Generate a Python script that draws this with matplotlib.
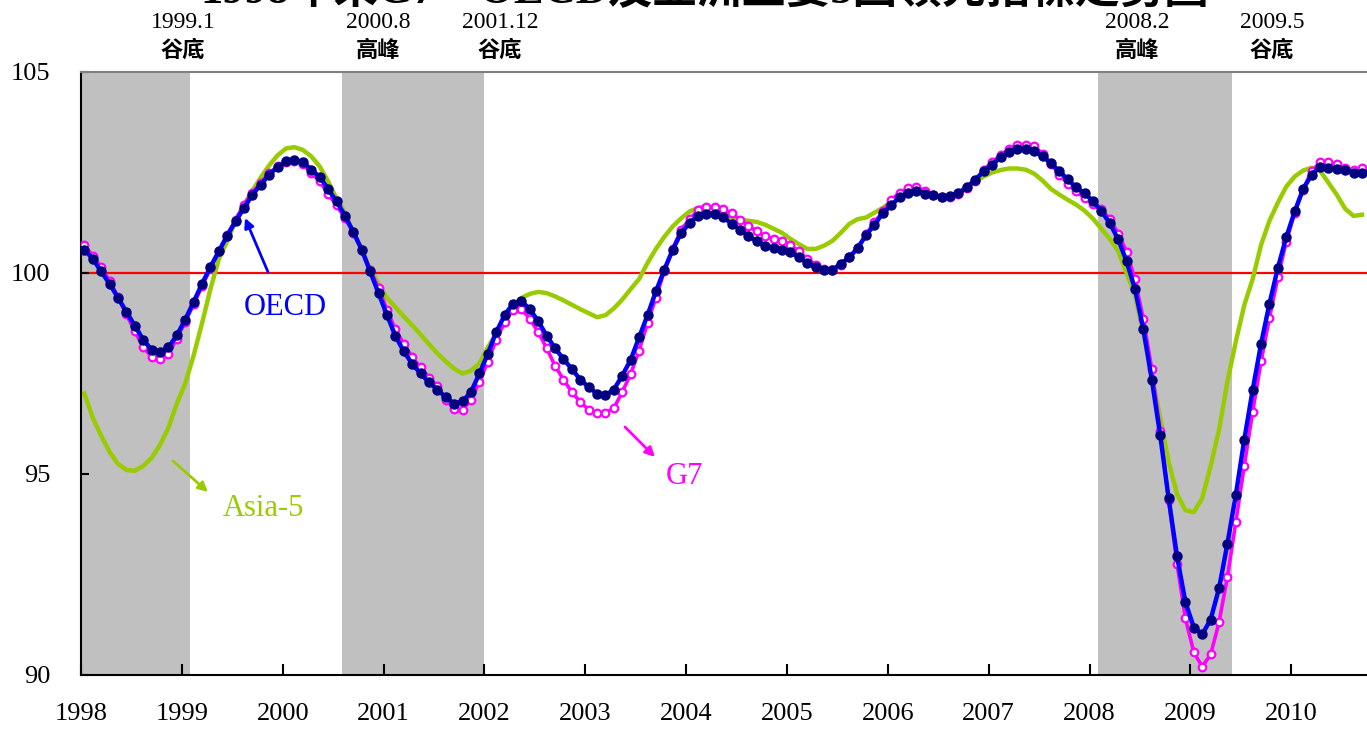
# -*- coding: utf-8 -*-
import matplotlib as mpl
mpl.use('Agg')
import matplotlib.pyplot as plt
import numpy as np
import pandas as pd

# 月份 (1998.01 ~ 2010.09)
months = pd.period_range('1998-01', '2010-09', freq='M')

oecd = [100.58, 100.35, 100.04, 99.73, 99.39, 99.03, 98.69, 98.34, 98.09, 98.04, 98.15, 98.45,
        98.84, 99.28, 99.73, 100.15, 100.54, 100.93, 101.29, 101.62, 101.95, 102.20, 102.45, 102.64,
        102.78, 102.82, 102.76, 102.57, 102.39, 102.09, 101.78, 101.43, 101.02, 100.58, 100.04, 99.50,
        98.96, 98.44, 98.05, 97.74, 97.50, 97.28, 97.10, 96.91, 96.75, 96.81, 97.04, 97.50,
        97.99, 98.53, 98.95, 99.24, 99.30, 99.10, 98.80, 98.44, 98.13, 97.86, 97.61, 97.35,
        97.16, 97.00, 96.96, 97.10, 97.45, 97.84, 98.40, 98.95, 99.54, 100.08, 100.58, 101.00,
        101.24, 101.43, 101.48, 101.48, 101.39, 101.23, 101.08, 100.93, 100.79, 100.68, 100.63, 100.58,
        100.53, 100.39, 100.25, 100.14, 100.08, 100.08, 100.23, 100.39, 100.62, 100.94, 101.20, 101.49,
        101.68, 101.89, 101.99, 102.03, 101.97, 101.93, 101.88, 101.91, 101.99, 102.14, 102.32, 102.53,
        102.69, 102.88, 103.00, 103.08, 103.08, 103.03, 102.90, 102.73, 102.53, 102.33, 102.13, 101.98,
        101.79, 101.54, 101.24, 100.84, 100.29, 99.60, 98.60, 97.35, 95.96, 94.40, 92.95, 91.81,
        91.18, 91.01, 91.38, 92.16, 93.27, 94.49, 95.85, 97.09, 98.24, 99.24, 100.13, 100.89,
        101.53, 102.09, 102.44, 102.64, 102.62, 102.59, 102.56, 102.49, 102.49]

g7 = [100.69, 100.43, 100.15, 99.80, 99.40, 98.97, 98.55, 98.15, 97.92, 97.85, 97.98, 98.37,
      98.78, 99.22, 99.67, 100.12, 100.55, 100.95, 101.33, 101.70, 102.00, 102.25, 102.48, 102.65,
      102.76, 102.78, 102.70, 102.50, 102.28, 101.97, 101.68, 101.37, 101.00, 100.58, 100.08, 99.63,
      99.09, 98.60, 98.24, 97.91, 97.65, 97.40, 97.18, 96.85, 96.62, 96.60, 96.85, 97.29,
      97.79, 98.34, 98.77, 99.09, 99.10, 98.86, 98.53, 98.13, 97.69, 97.35, 97.04, 96.79,
      96.60, 96.52, 96.52, 96.64, 97.04, 97.49, 98.07, 98.76, 99.38, 100.05, 100.60, 101.08,
      101.34, 101.56, 101.64, 101.65, 101.58, 101.49, 101.33, 101.18, 101.04, 100.91, 100.85, 100.79,
      100.70, 100.54, 100.35, 100.21, 100.11, 100.08, 100.20, 100.39, 100.62, 100.96, 101.26, 101.53,
      101.82, 102.00, 102.11, 102.15, 102.03, 101.95, 101.90, 101.90, 101.97, 102.11, 102.30, 102.57,
      102.75, 102.94, 103.08, 103.19, 103.19, 103.15, 102.97, 102.72, 102.45, 102.22, 102.03, 101.87,
      101.72, 101.58, 101.35, 100.98, 100.53, 99.84, 98.85, 97.60, 96.07, 94.35, 92.76, 91.41,
      90.56, 90.21, 90.51, 91.31, 92.45, 93.81, 95.20, 96.55, 97.80, 98.89, 99.89, 100.78,
      101.50, 102.07, 102.53, 102.75, 102.75, 102.70, 102.62, 102.55, 102.62]

asia5 = [97.00, 96.40, 95.95, 95.55, 95.25, 95.10, 95.08, 95.20, 95.40, 95.72, 96.15, 96.75,
         97.25, 97.95, 98.75, 99.60, 100.35, 100.80, 101.30, 101.70, 102.05, 102.38, 102.68, 102.93,
         103.10, 103.13, 103.06, 102.90, 102.65, 102.28, 101.85, 101.50, 101.00, 100.60, 100.10, 99.73,
         99.38, 99.15, 98.92, 98.70, 98.47, 98.23, 98.00, 97.80, 97.62, 97.50, 97.57, 97.75,
         98.15, 98.50, 98.80, 99.15, 99.38, 99.48, 99.53, 99.50, 99.42, 99.32, 99.21, 99.10,
         99.00, 98.90, 98.95, 99.12, 99.34, 99.60, 99.85, 100.25, 100.60, 100.90, 101.16, 101.36,
         101.53, 101.62, 101.66, 101.60, 101.48, 101.38, 101.33, 101.30, 101.27, 101.20, 101.10, 101.00,
         100.85, 100.72, 100.60, 100.60, 100.68, 100.80, 101.00, 101.22, 101.34, 101.38, 101.50, 101.62,
         101.78, 101.92, 102.00, 102.00, 101.98, 101.95, 101.90, 101.90, 101.98, 102.12, 102.28, 102.40,
         102.50, 102.56, 102.60, 102.60, 102.57, 102.47, 102.30, 102.09, 101.95, 101.82, 101.70, 101.55,
         101.35, 101.10, 100.85, 100.55, 100.00, 99.45, 98.50, 97.45, 96.40, 95.30, 94.50, 94.10,
         94.05, 94.40, 95.20, 96.10, 97.30, 98.30, 99.20, 99.85, 100.70, 101.30, 101.75, 102.15,
         102.40, 102.55, 102.62, 102.55, 102.25, 101.95, 101.60, 101.42, 101.45]

# 景氣轉折點 (年, 月, 標籤)
turns = [(1999, 1, '谷底'), (2000, 8, '高峰'), (2001, 12, '谷底'), (2008, 2, '高峰'), (2009, 5, '谷底')]
# 陰影區間: 高峰月初 ~ 谷底月底
spans = [((1998, 1), (1999, 1)), ((2000, 8), (2001, 12)), ((2008, 2), (2009, 5))]
years = list(range(1998, 2011))

x = np.array([p.year + (p.month - 0.6) / 12 for p in months])

W, H = 1367, 731
fig = plt.figure(figsize=(W / 100, H / 100), dpi=100)
ax = fig.add_axes([81 / W, 1 - 675 / H, 1 - 81 / W, (675 - 72) / H])


def px(xp, yp):
    return xp / W, 1 - yp / H


serif = ['Liberation Serif', 'Noto Sans CJK TC']
cjk = ['Noto Sans CJK TC', 'Liberation Serif']

for (y0, m0), (y1, m1) in spans:
    ax.axvspan(y0 + (m0 - 1) / 12, y1 + m1 / 12, color='#C0C0C0', lw=0, zorder=0)

ax.axhline(100, color='#FF0000', lw=1.6, zorder=1)

ax.plot(x, asia5[:len(x)], color='#99CC00', lw=3.2, zorder=2)
ax.plot(x, g7, color='#FF00FF', lw=2.6, marker='o', ms=5.5, mfc='white', mec='#FF00FF',
        mew=1.6, zorder=3)
ax.plot(x, oecd, color='#0000FF', lw=3.2, marker='o', ms=6.5, mfc='#000080', mec='#000080',
        zorder=4)

ax.set_xlim(1998, 1998 + (W - 80.5) / 100.9)
ax.set_ylim(90, 105)
ax.set_xticks(years)
ax.set_xticklabels([str(y) for y in years], family=serif, fontsize=19)
ax.set_yticks([90, 95, 100, 105])
ax.set_yticklabels(['90', '95', '100', '105'], family=serif, fontsize=19)
ax.tick_params(axis='x', direction='in', length=8, width=1.5, pad=20)
ax.tick_params(axis='y', direction='in', length=6, width=1.5, pad=22)
ax.spines['right'].set_visible(False)
ax.spines['top'].set_color('#808080')
ax.spines['top'].set_linewidth(1.5)
ax.spines['left'].set_linewidth(1.5)
ax.spines['bottom'].set_linewidth(1.5)

# 標題 (上半部被裁切)
fig.text(*px(705, -10), '1998年來G7、OECD及亞洲主要5國領先指標走勢圖', family=serif,
         fontsize=32, fontweight='bold', ha='center', va='center')

# 轉折點標示
turn_px = [183, 378, 500, 1137, 1272]
for (yy, mm, lab), xp in zip(turns, turn_px):
    fig.text(*px(xp, 22), f'{yy}.{mm}', family=serif, fontsize=17, ha='center', va='center')
    fig.text(*px(xp, 50), lab, family=cjk, fontsize=16, fontweight='bold', ha='center',
             va='center')

# 系列標示與箭頭
def label(text, color, txt_xy, a0, a1):
    fig.text(*px(*txt_xy), text, family=serif, fontsize=22, color=color, ha='center', va='center')
    ax.annotate('', xy=px(*a1), xytext=px(*a0), xycoords='figure fraction',
                textcoords='figure fraction',
                arrowprops=dict(arrowstyle='-|>', color=color, lw=2, mutation_scale=14,
                                shrinkA=0, shrinkB=0))


label('OECD', '#0000FF', (285, 308), (268, 272), (245, 218))
label('G7', '#FF00FF', (684, 476), (625, 427), (655, 457))
label('Asia-5', '#99CC00', (263, 508), (173, 461), (208, 492))

fig.savefig('out.png', dpi=100)
plt.close()
